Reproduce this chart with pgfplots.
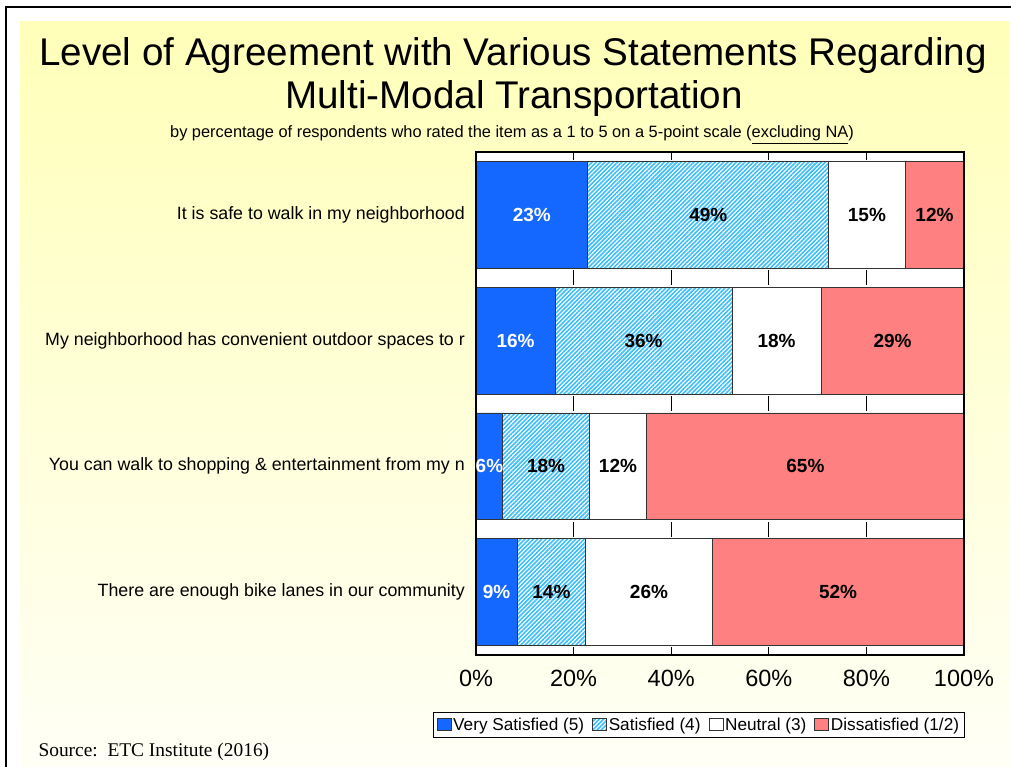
\documentclass[border=0pt]{standalone}
\usepackage{pgfplots}
\pgfplotsset{compat=1.18}
\usepackage{pgfplotstable}
\usepackage{fontspec}
\setmainfont{Liberation Sans}
\newfontfamily\srcfont{Liberation Serif}
\usetikzlibrary{patterns.meta}

\definecolor{vsblue}{RGB}{20,104,255}
\definecolor{hatchblue}{RGB}{60,190,250}
\definecolor{disred}{RGB}{255,128,128}
\definecolor{bgtop}{RGB}{255,255,185}
\definecolor{bgbot}{RGB}{255,255,246}

% segment lengths (percent) and their printed labels, top row first
\pgfplotstableread{
row vs   vsl sat  satl neu  neul dis  disl
0   22.9 23  49.4 49   15.6 15   12.1 12
1   16.2 16  36.3 36   18.2 18   29.3 29
2   5.5  6   17.7 18   11.8 12   65.0 65
3   8.4  9   14.1 14   25.9 26   51.6 52
}\agree

\begin{document}
\begin{tikzpicture}
\useasboundingbox (0pt,0pt) rectangle (1011pt,767pt);
\fill[white] (0pt,0pt) rectangle (1011pt,767pt);
\shade[top color=bgtop, bottom color=bgbot] (20pt,0pt) rectangle (1009pt,745pt);
\draw[line width=1.2pt] (6pt,0pt) -- (6pt,760pt) -- (1011pt,760pt);

\node[anchor=base, font=\fontsize{38.6}{40}\selectfont] at (513pt,701pt)
  {Level of Agreement with Various Statements Regarding};
\node[anchor=base, font=\fontsize{38.6}{40}\selectfont] at (514pt,658pt)
  {Multi-Modal Transportation};
\node[anchor=base, font=\fontsize{16.4}{18}\selectfont] at (512pt,629pt)
  {by percentage of respondents who rated the item as a 1 to 5 on a 5-point scale (\underline{excluding NA})};
\node[anchor=base west, font=\srcfont\fontsize{19.4}{21}\selectfont] at (35pt,10pt)
  {Source:\ \ ETC Institute (2016)};

\begin{axis}[
    at={(476pt,112pt)}, anchor=south west,
    width=488pt, height=503pt, scale only axis,
    xbar stacked, bar width=0.85,
    xmin=0, xmax=100, ymin=-0.5, ymax=3.5, y dir=reverse,
    ytick={0,1,2,3},
    yticklabels={It is safe to walk in my neighborhood,
                 My neighborhood has convenient outdoor spaces to r,
                 You can walk to shopping \& entertainment from my n,
                 There are enough bike lanes in our community},
    xtick={0,20,...,100},
    xticklabel={\pgfmathprintnumber{\tick}\%},
    /pgf/number format/assume math mode=true,
    major tick length=0pt,
    yticklabel style={font=\fontsize{17.8}{19}\selectfont, inner sep=0pt, xshift=-11pt},
    xticklabel style={font=\fontsize{23.5}{25}\selectfont, inner sep=0pt, yshift=-15pt},
    axis background/.style={fill=white},
    axis line style={line width=2.2pt},
    axis on top,
    point meta=explicit symbolic,
    nodes near coords={\pgfplotspointmeta\%},
    every node near coord/.append style={font=\bfseries\fontsize{19}{21}\selectfont,
        anchor=center},
    legend style={at={(1.002,-0.113)}, anchor=north east, legend columns=-1,
        draw=black, line width=0.8pt, fill=white, inner sep=3.5pt,
        font=\fontsize{17.2}{19}\selectfont,
        /tikz/every even column/.append style={column sep=6pt}},
    legend image code/.code={\draw[#1, line width=0.6pt] (0pt,-6pt) rectangle (14pt,6pt);},
]
\addplot[fill=vsblue, draw=black!80, line width=0.7pt,
    every node near coord/.append style={text=white}]
    table[x=vs, y=row, meta=vsl] {\agree};
\addplot[pattern={Lines[angle=45, distance=3pt, line width=1.6pt]}, pattern color=hatchblue,
    draw=black!80, line width=0.7pt]
    table[x=sat, y=row, meta=satl] {\agree};
\addplot[fill=white, draw=black!80, line width=0.7pt]
    table[x=neu, y=row, meta=neul] {\agree};
\addplot[fill=disred, draw=black!80, line width=0.7pt]
    table[x=dis, y=row, meta=disl] {\agree};
\legend{Very Satisfied (5), Satisfied (4), Neutral (3), Dissatisfied (1/2)}

% short marks that Excel leaves in the gaps between the bars
\pgfplotsinvokeforeach{20,40,60,80}{
  \draw[black, line width=1pt] (axis cs:#1,-0.5) -- (axis cs:#1,-0.44);
  \draw[black, line width=1pt] (axis cs:#1,0.44) -- (axis cs:#1,0.56);
  \draw[black, line width=1pt] (axis cs:#1,1.44) -- (axis cs:#1,1.56);
  \draw[black, line width=1pt] (axis cs:#1,2.44) -- (axis cs:#1,2.56);
  \draw[black, line width=1pt] (axis cs:#1,3.44) -- (axis cs:#1,3.5);
}
\end{axis}
\end{tikzpicture}
\end{document}
